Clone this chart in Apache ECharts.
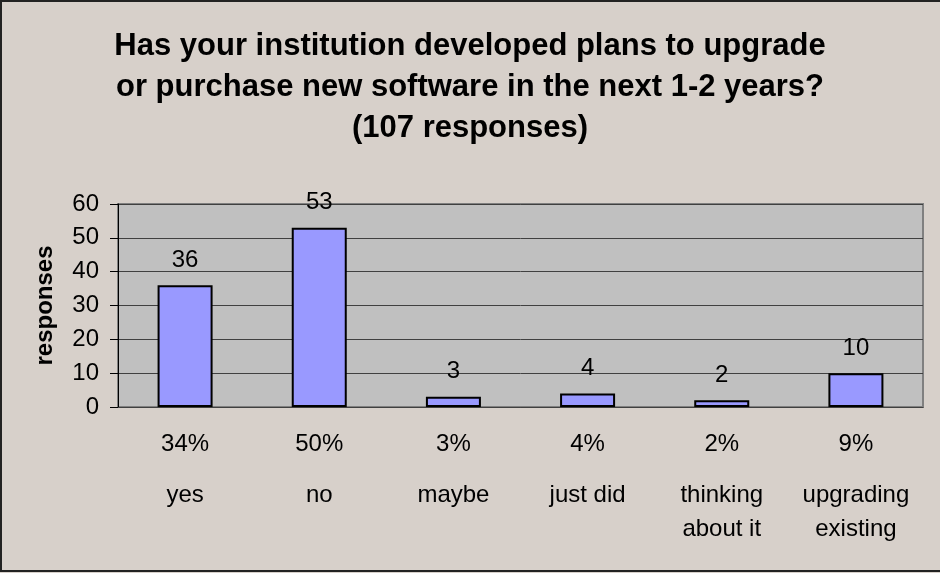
<!DOCTYPE html>
<html>
<head>
<meta charset="utf-8">
<title>Software upgrade plans</title>
<script src="https://cdn.jsdelivr.net/npm/echarts@6/dist/echarts.min.js"></script>
<style>
  html, body { margin: 0; padding: 0; background: #D7D0CA; }
  #chart { width: 940px; height: 573px; }
</style>
</head>
<body>
<div id="chart"></div>
<script>
// Survey answers, counts and share of respondents
const categories = ['yes', 'no', 'maybe', 'just did', 'thinking\nabout it', 'upgrading\nexisting'];
const responses = [36, 53, 3, 4, 2, 10];
const percentLabels = ['34%', '50%', '3%', '4%', '2%', '9%'];
const yTicks = { min: 0, max: 60, interval: 10 };

const FONT = "'Liberation Sans', Arial, sans-serif";

const chart = echarts.init(document.getElementById('chart'), null, { renderer: 'canvas' });

chart.setOption({
  backgroundColor: '#D7D0CA',
  animation: false,
  title: {
    text: 'Has your institution developed plans to upgrade\nor purchase new software in the next 1-2 years?\n(107 responses)',
    left: 'center',
    top: 21,
    textStyle: {
      fontFamily: FONT,
      fontSize: 31,
      fontWeight: 'bold',
      color: '#000',
      lineHeight: 41
    }
  },
  graphic: [{
    type: 'rect',
    shape: { x: 1, y: 1, width: 945, height: 570 },
    style: { fill: 'none', stroke: '#222', lineWidth: 2 },
    silent: true,
    z: 100
  }],
  grid: {
    left: 118,
    right: 17,
    top: 204,
    bottom: 166,
    show: true,
    backgroundColor: '#C0C0C0',
    borderColor: '#808080',
    borderWidth: 2
  },
  xAxis: [{
    // percentage row directly under the bars
    type: 'category',
    data: percentLabels,
    position: 'bottom',
    axisLine: { show: true, lineStyle: { color: '#404040', width: 1 } },
    axisTick: { show: false },
    axisLabel: {
      interval: 0,
      hideOverlap: false,
      margin: 25,
      fontFamily: FONT,
      fontSize: 24,
      lineHeight: 24,
      color: '#000'
    }
  }, {
    // answer names below the percentages
    type: 'category',
    data: categories,
    position: 'bottom',
    axisLine: { show: false },
    axisTick: { show: false },
    axisLabel: {
      interval: 0,
      hideOverlap: false,
      margin: 71,
      fontFamily: FONT,
      fontSize: 24,
      lineHeight: 34,
      color: '#000',
      verticalAlign: 'top'
    }
  }],
  yAxis: {
    type: 'value',
    min: yTicks.min,
    max: yTicks.max,
    interval: yTicks.interval,
    name: 'responses',
    nameLocation: 'middle',
    nameGap: 61,
    nameRotate: 90,
    nameTextStyle: {
      fontFamily: FONT,
      fontSize: 24,
      fontWeight: 'bold',
      color: '#000'
    },
    axisLine: { show: true, lineStyle: { color: '#000', width: 1 } },
    axisTick: { show: true, length: 8, lineStyle: { color: '#000' } },
    axisLabel: {
      margin: 19,
      fontFamily: FONT,
      fontSize: 24,
      color: '#000'
    },
    splitLine: { show: true, lineStyle: { color: '#404040', width: 1 } }
  },
  series: [{
    type: 'bar',
    data: responses,
    xAxisIndex: 0,
    barWidth: '41%',
    itemStyle: {
      color: '#9999FF',
      borderColor: '#000',
      borderWidth: 2
    },
    label: {
      show: true,
      position: 'top',
      distance: 13,
      fontFamily: FONT,
      fontSize: 24,
      color: '#000'
    }
  }]
});
</script>
</body>
</html>
